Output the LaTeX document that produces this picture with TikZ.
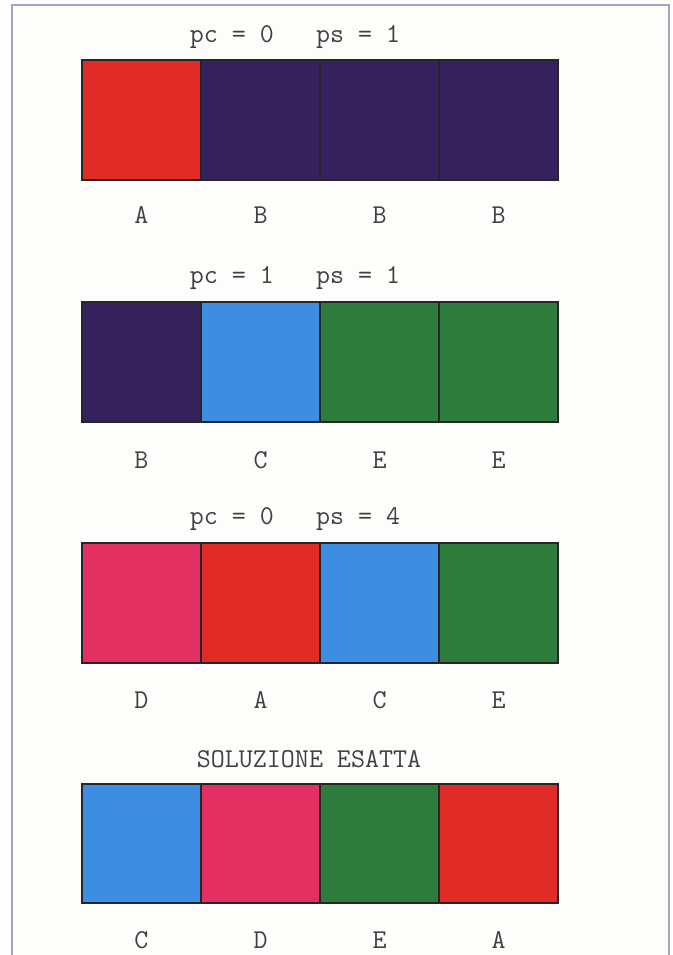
\documentclass[tikz,border=0pt]{standalone}
\usepackage{fontspec}
\usepackage{tikz}
\usetikzlibrary{positioning}
\definecolor{cellred}{HTML}{E12B27}
\definecolor{cellpurple}{HTML}{35215E}
\definecolor{cellblue}{HTML}{3D8DE2}
\definecolor{cellgreen}{HTML}{2E7C3B}
\definecolor{cellpink}{HTML}{E32F62}
\definecolor{framegray}{HTML}{A4A4C6}
\definecolor{paper}{HTML}{FDFDFB}
\tikzset{
  cellline/.style={draw=black!85, line width=1.4pt},
  caption/.style={font=\ttfamily\fontsize{20.4}{24}\selectfont, text=black!75, anchor=base, inner sep=0pt},
  lab/.style={font=\ttfamily\fontsize{20.4}{24}\selectfont, text=black!75, anchor=base, inner sep=0pt},
}

\begin{document}
\begin{tikzpicture}[x=0.75pt, y=-0.75pt]
  \useasboundingbox (0,0) rectangle (672,955);
  \fill[paper] (0,0) rectangle (672,955);
  \draw[framegray, line width=1.2pt] (12,965) -- (12,5) -- (669,5) -- (669,965);
  % row 1
  \node[caption] (t1) at (295,43) {pc = 0\ \ \ ps = 1};
  \foreach \col/\lab [count=\i from 0] in {cellred/A,cellpurple/B,cellpurple/B,cellpurple/B}{
    \filldraw[fill=\col, cellline] (82+119*\i,60) rectangle ++(119,120);
    \node[lab] (l1-\i) at (141.5+119*\i,224) {\lab};
  }
  % row 2
  \node[caption] (t2) at (295,283) {pc = 1\ \ \ ps = 1};
  \foreach \col/\lab [count=\i from 0] in {cellpurple/B,cellblue/C,cellgreen/E,cellgreen/E}{
    \filldraw[fill=\col, cellline] (82+119*\i,302) rectangle ++(119,120);
    \node[lab] (l2-\i) at (141.5+119*\i,468) {\lab};
  }
  % row 3
  \node[caption] (t3) at (295,524) {pc = 0\ \ \ ps = 4};
  \foreach \col/\lab [count=\i from 0] in {cellpink/D,cellred/A,cellblue/C,cellgreen/E}{
    \filldraw[fill=\col, cellline] (82+119*\i,543) rectangle ++(119,120);
    \node[lab] (l3-\i) at (141.5+119*\i,708) {\lab};
  }
  % row 4
  \node[caption] (t4) at (309,767) {SOLUZIONE ESATTA};
  \foreach \col/\lab [count=\i from 0] in {cellblue/C,cellpink/D,cellgreen/E,cellred/A}{
    \filldraw[fill=\col, cellline] (82+119*\i,784) rectangle ++(119,119);
    \node[lab] (l4-\i) at (141.5+119*\i,948) {\lab};
  }
\end{tikzpicture}
\end{document}
